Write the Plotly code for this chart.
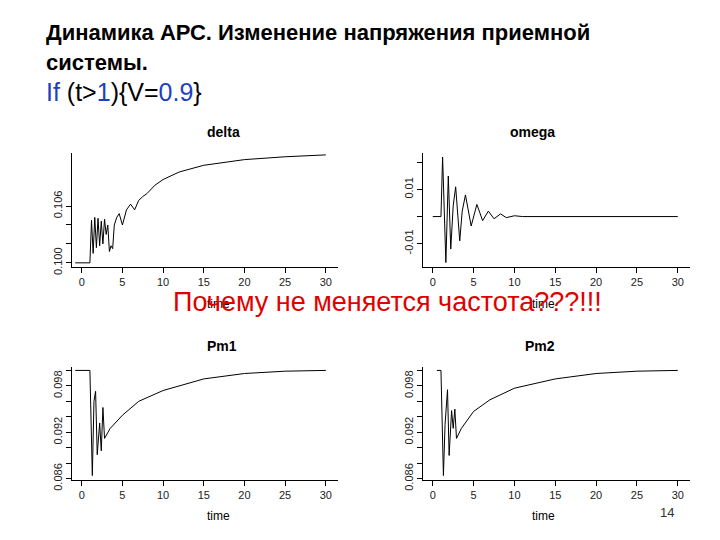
import plotly.graph_objects as go

t_delta = [-0.8, 1.0, 1.2, 1.4, 1.6, 1.8, 2.0, 2.2, 2.4, 2.6, 2.8, 3.0, 3.2, 3.4, 3.6, 3.8, 4.0, 4.3, 4.6, 5.0, 5.5, 6.0, 6.5, 7.0, 7.5, 8.0, 9.0, 10.0, 12.0, 15.0, 20.0, 25.0, 30.0]
v_delta = [0.1000, 0.1000, 0.1045, 0.1010, 0.1048, 0.1016, 0.1047, 0.1018, 0.1044, 0.1020, 0.1046, 0.1030, 0.1040, 0.1012, 0.1018, 0.1015, 0.1040, 0.1048, 0.1052, 0.1040, 0.1056, 0.1062, 0.1056, 0.1066, 0.1070, 0.1073, 0.1082, 0.1088, 0.1096, 0.1103, 0.1109, 0.1112, 0.1114]

t_omega = [0.0, 1.0, 1.2, 1.6, 1.9, 2.2, 2.5, 2.8, 3.3, 3.6, 4.0, 4.7, 5.4, 6.1, 6.8, 7.5, 8.3, 9.0, 10.0, 11.0, 30.0]
v_omega = [0.0, 0.0, 0.022, -0.017, 0.015, -0.012, 0.004, 0.011, -0.009, 0.002, 0.008, -0.0035, 0.0045, -0.0015, 0.002, -0.0008, 0.001, -0.0004, 0.0003, 0.0, 0.0]

t_pm1 = [-0.8, 1.0, 1.3, 1.5, 1.7, 1.9, 2.2, 2.4, 2.6, 2.8, 3.5, 5.0, 7.0, 10.0, 15.0, 20.0, 25.0, 30.0]
v_pm1 = [0.1000, 0.1000, 0.0864, 0.0960, 0.0973, 0.0891, 0.0932, 0.0896, 0.0952, 0.0912, 0.0925, 0.0942, 0.0960, 0.0974, 0.0989, 0.0996, 0.0999, 0.1000]

t_pm2 = [0.5, 1.0, 1.3, 1.5, 1.8, 2.0, 2.3, 2.5, 2.7, 2.9, 3.5, 5.0, 7.0, 10.0, 15.0, 20.0, 25.0, 30.0]
v_pm2 = [0.1000, 0.1000, 0.0864, 0.0930, 0.0975, 0.0890, 0.0948, 0.0925, 0.0950, 0.0912, 0.0925, 0.0947, 0.0962, 0.0977, 0.0989, 0.0996, 0.0999, 0.1000]

x_ticks = [0, 5, 10, 15, 20, 25, 30]

fig = go.Figure()
panels = [
    ("delta", t_delta, v_delta, "x", "y", [0.0996, 0.1116], [0.100, 0.102, 0.104, 0.106], ["0.100", "", "", "0.106"]),
    ("omega", t_omega, v_omega, "x2", "y2", [-0.0185, 0.0235], [-0.01, 0.0, 0.01, 0.02], ["-0.01", "", "0.01", ""]),
    ("Pm1", t_pm1, v_pm1, "x3", "y3", [0.0858, 0.1005], [0.086, 0.088, 0.090, 0.092, 0.094, 0.096, 0.098, 0.100], ["0.086", "", "", "0.092", "", "", "0.098", ""]),
    ("Pm2", t_pm2, v_pm2, "x4", "y4", [0.0858, 0.1005], [0.086, 0.088, 0.090, 0.092, 0.094, 0.096, 0.098, 0.100], ["0.086", "", "", "0.092", "", "", "0.098", ""]),
]
W, H = 720, 540
xdoms = [(64, 330), (415, 682)]
ydoms = [(148, 264), (366, 482)]
layout = dict(width=W, height=H, margin=dict(l=0, r=0, t=0, b=0), plot_bgcolor="white",
              paper_bgcolor="white", showlegend=False)

def ann(text, x, y, size, color="black", **kw):
    d = dict(text=text, x=x / W, y=1 - y / H, xref="paper", yref="paper", showarrow=False,
             yanchor="middle", font=dict(family="Liberation Sans", size=size, color=color))
    d.update(kw)
    return d

anns = []
for i, (name, t, v, xa, ya, yr, yt, ytl) in enumerate(panels):
    fig.add_trace(go.Scatter(x=t, y=v, mode="lines", line=dict(color="black", width=1), xaxis=xa, yaxis=ya))
    col, row = i % 2, i // 2
    xd = [xdoms[col][0] / W, xdoms[col][1] / W]
    yd = [1 - ydoms[row][1] / H, 1 - ydoms[row][0] / H]
    sx = "" if i == 0 else str(i + 1)
    common = dict(showgrid=False, zeroline=False, showline=True, linecolor="black", linewidth=1,
                  ticks="outside", ticklen=5, tickcolor="black",
                  tickfont=dict(family="Liberation Sans", size=11, color="#222"))
    layout["xaxis" + sx] = dict(domain=xd, range=[-1.2, 31.5], tickvals=x_ticks, anchor="y" + sx, **common)
    layout["yaxis" + sx] = dict(domain=yd, range=yr, tickvals=yt, ticktext=ytl, tickangle=-90,
                                anchor="x" + sx, **common)
    cx = (xdoms[col][0] + xdoms[col][1]) / 2
    anns.append(ann("<b>" + name + "</b>", cx, ydoms[row][0] - 21, 14))
    anns.append(ann("time", cx, 519 if row == 1 else 302, 12))

anns += [
    ann("<b>Динамика АРС. Изменение напряжения приемной</b>", 36, 25, 22, xanchor="left"),
    ann("<b>системы.</b>", 36, 56, 22, xanchor="left"),
    ann("<span style='color:#1f3fbf'>If</span> (t&gt;<span style='color:#1f3fbf'>1</span>){V=<span style='color:#1f3fbf'>0.9</span>}",
        36, 86, 25, xanchor="left"),
    ann("Почему не меняется частота???!!!", 379, 300, 27, color="#e00000"),
    ann("14", 668, 515, 13, color="#333"),
]
layout["annotations"] = anns
fig.update_layout(**layout)
fig.write_html("out.html")
